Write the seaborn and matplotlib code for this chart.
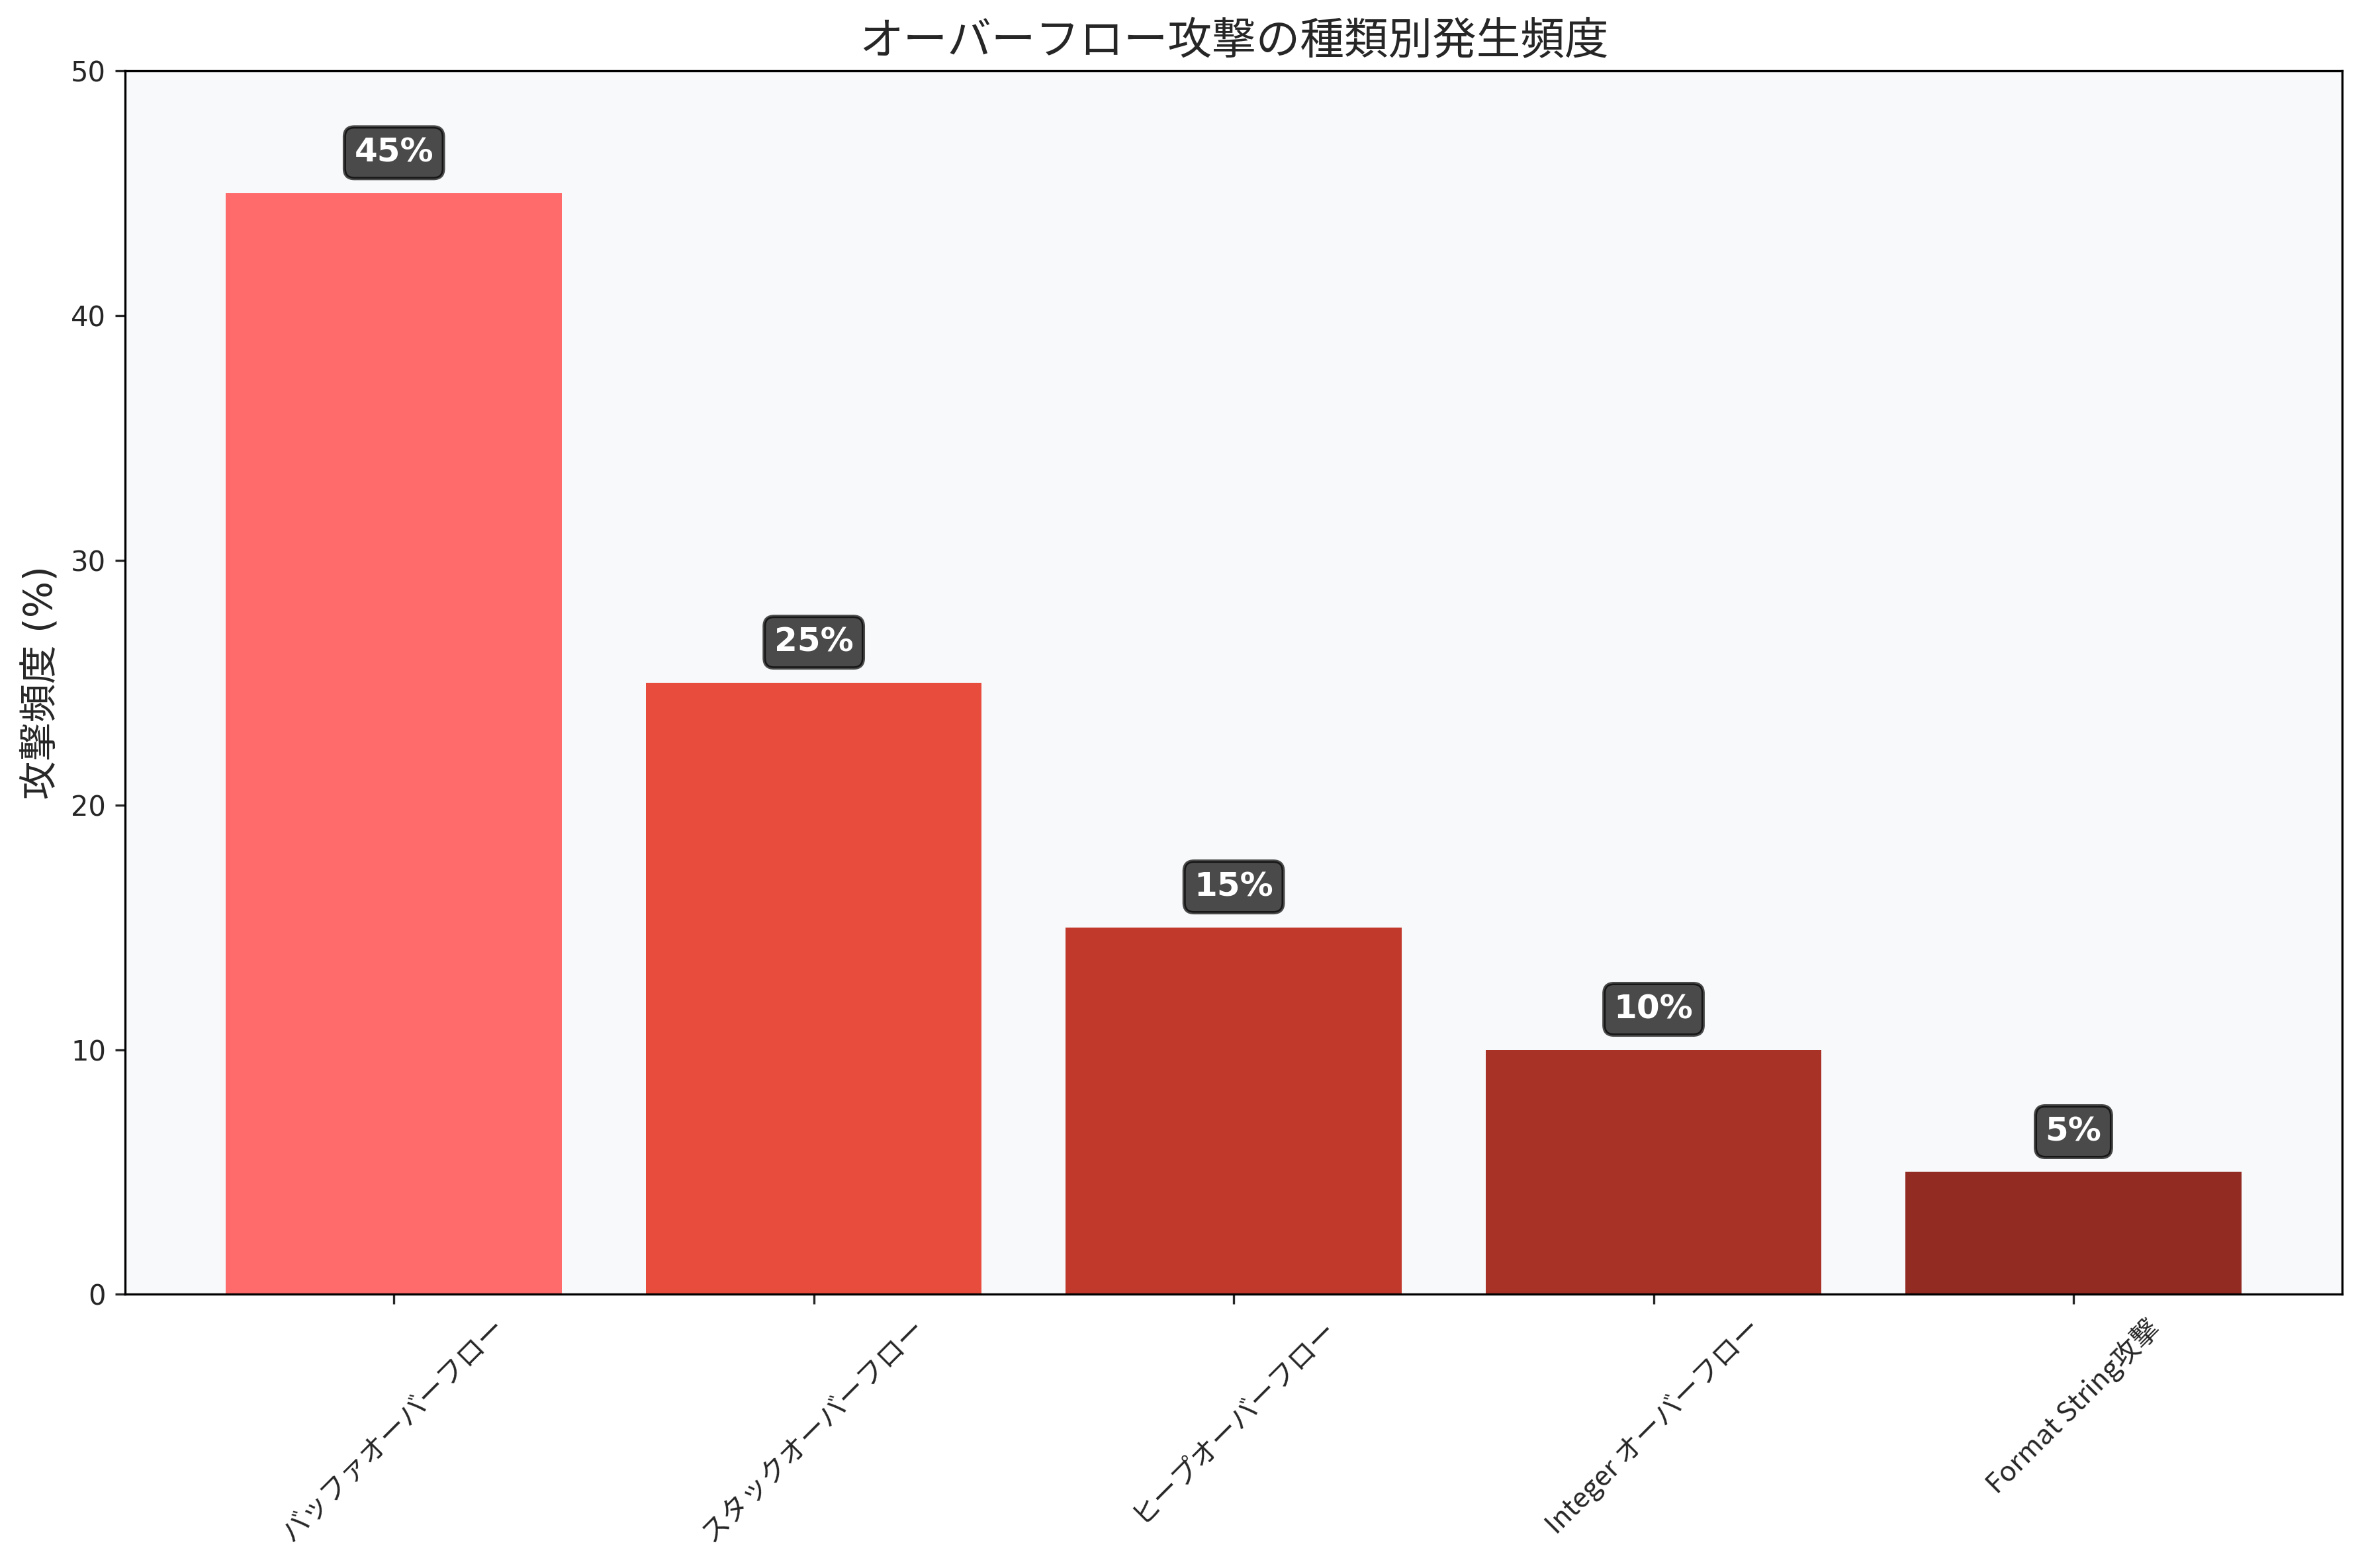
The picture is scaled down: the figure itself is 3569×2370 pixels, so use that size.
import matplotlib
matplotlib.use("Agg")
import matplotlib.pyplot as plt
import seaborn as sns
import pandas as pd

categories = ["バッファオーバーフロー", "スタックオーバーフロー", "ヒープオーバーフロー",
              "Integer オーバーフロー", "Format String攻撃"]
values = [45, 25, 15, 10, 5]
colors = ["#FF6B6B", "#E74C3C", "#C0392B", "#A93226", "#922B21"]
title = "オーバーフロー攻撃の種類別発生頻度"
ylabel = "攻撃頻度 (%)"

sns.set_style("ticks")
plt.rcParams["font.family"] = ["DejaVu Sans", "Noto Sans CJK JP"]

df = pd.DataFrame({"cat": categories, "val": values})

fig = plt.figure(figsize=(3569 / 300, 2370 / 300), dpi=300)
ax = fig.add_axes([0.053, 0.1745, 0.9386, 0.7804])
ax.set_facecolor("#F8F9FA")

sns.barplot(data=df, x="cat", y="val", hue="cat", palette=colors, legend=False,
            ax=ax, width=0.8, saturation=1, linewidth=0)

for i, v in enumerate(values):
    ax.text(i, v + 1, f"{v}%", ha="center", va="bottom", fontsize=12,
            fontweight="bold", color="white", family="DejaVu Sans",
            bbox=dict(boxstyle="round,pad=0.3", facecolor="black",
                      edgecolor="black", linewidth=1.2, alpha=0.7))

ax.set_ylim(0, 50)
ax.set_xlim(-0.64, 4.64)
ax.set_xlabel("")
ax.set_ylabel(ylabel, fontsize=14)
ax.set_title(title, fontsize=16, family=["Noto Sans CJK JP", "DejaVu Sans"], pad=6)
ax.tick_params(axis="y", labelsize=10)
ax.set_xticks(range(len(categories)))
ax.set_xticklabels(categories, rotation=45, ha="center", fontsize=10,
                   family=["Noto Sans CJK JP", "DejaVu Sans"])
for s in ax.spines.values():
    s.set_visible(True)
    s.set_color("black")

fig.savefig("out.png", dpi=300)
